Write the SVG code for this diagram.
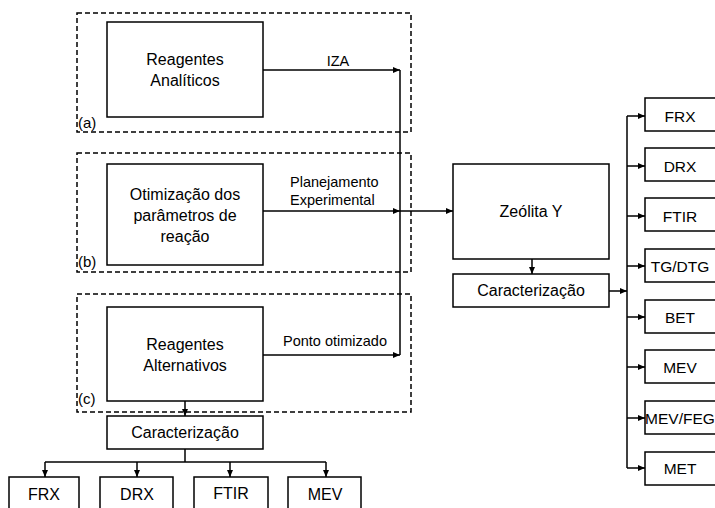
<svg xmlns="http://www.w3.org/2000/svg" width="715" height="508" viewBox="0 0 715 508">
<style>
.box{fill:#fff;stroke:#000;stroke-width:1.5}
.dash{fill:none;stroke:#000;stroke-width:1.5;stroke-dasharray:5,3}
.ln{fill:none;stroke:#000;stroke-width:1.5}
text{font-family:"Liberation Sans",Arial,sans-serif;fill:#000}
.t{font-size:16px;text-anchor:middle}
.r{font-size:15.5px;text-anchor:middle}
.s{font-size:14.5px}
.l{font-size:15px}
</style>
<defs>
<marker id="ah" markerWidth="7" markerHeight="6" refX="7" refY="3" orient="auto" markerUnits="userSpaceOnUse">
<path d="M0,0 L7,3 L0,6 Z" fill="#000"/>
</marker>
</defs>
<rect width="715" height="508" fill="#fff"/>
<g id="group-a">
<rect class="dash" x="77" y="13" width="334" height="119"/>
<text class="l" x="78" y="128">(a)</text>
</g>
<g id="group-b">
<rect class="dash" x="77" y="153" width="334" height="119"/>
<text class="l" x="78" y="267">(b)</text>
</g>
<g id="group-c">
<rect class="dash" x="77" y="294" width="334" height="118"/>
<text class="l" x="78" y="404">(c)</text>
</g>
<g id="connectors">
<line class="ln" x1="263" y1="70" x2="400" y2="70" marker-end="url(#ah)"/>
<line class="ln" x1="400" y1="70" x2="400" y2="355"/>
<line class="ln" x1="263" y1="355" x2="400" y2="355" marker-end="url(#ah)"/>
<line class="ln" x1="263" y1="211" x2="400" y2="211" marker-end="url(#ah)"/>
<line class="ln" x1="400" y1="211" x2="453" y2="211" marker-end="url(#ah)"/>
<line class="ln" x1="532" y1="259" x2="532" y2="274" marker-end="url(#ah)"/>
<line class="ln" x1="609" y1="291" x2="627" y2="291" marker-end="url(#ah)"/>
<line class="ln" x1="627" y1="116" x2="627" y2="468"/>
<line class="ln" x1="627" y1="116" x2="645" y2="116" marker-end="url(#ah)"/>
<line class="ln" x1="627" y1="166" x2="645" y2="166" marker-end="url(#ah)"/>
<line class="ln" x1="627" y1="216" x2="645" y2="216" marker-end="url(#ah)"/>
<line class="ln" x1="627" y1="266" x2="645" y2="266" marker-end="url(#ah)"/>
<line class="ln" x1="627" y1="317" x2="645" y2="317" marker-end="url(#ah)"/>
<line class="ln" x1="627" y1="367" x2="645" y2="367" marker-end="url(#ah)"/>
<line class="ln" x1="627" y1="418" x2="645" y2="418" marker-end="url(#ah)"/>
<line class="ln" x1="627" y1="468" x2="645" y2="468" marker-end="url(#ah)"/>
<line class="ln" x1="185" y1="401" x2="185" y2="416" marker-end="url(#ah)"/>
<line class="ln" x1="185" y1="449" x2="185" y2="462"/>
<line class="ln" x1="45" y1="462" x2="326" y2="462"/>
<line class="ln" x1="45" y1="462" x2="45" y2="477" marker-end="url(#ah)"/>
<line class="ln" x1="137" y1="462" x2="137" y2="477" marker-end="url(#ah)"/>
<line class="ln" x1="230" y1="462" x2="230" y2="477" marker-end="url(#ah)"/>
<line class="ln" x1="326" y1="462" x2="326" y2="477" marker-end="url(#ah)"/>
<text class="s" x="338" y="66" text-anchor="middle">IZA</text>
<text class="s" x="290" y="187">Planejamento</text>
<text class="s" x="290" y="205">Experimental</text>
<text class="s" x="283" y="346">Ponto otimizado</text>
</g>
<g id="reagentes-analiticos">
<rect class="box" x="107" y="22" width="156" height="95"/>
<text class="t" x="185" y="65">Reagentes</text>
<text class="t" x="185" y="86">Analíticos</text>
</g>
<g id="otimizacao">
<rect class="box" x="107" y="164" width="156" height="101"/>
<text class="t" x="185" y="200">Otimização dos</text>
<text class="t" x="185" y="221">parâmetros de</text>
<text class="t" x="185" y="242">reação</text>
</g>
<g id="reagentes-alternativos">
<rect class="box" x="107" y="307" width="156" height="94"/>
<text class="t" x="185" y="350">Reagentes</text>
<text class="t" x="185" y="371">Alternativos</text>
</g>
<g id="caracterizacao-c">
<rect class="box" x="107" y="416" width="156" height="33"/>
<text class="t" x="185" y="438">Caracterização</text>
</g>
<g id="frx-c"><rect class="box" x="9" y="477" width="70" height="40"/><text class="t" x="44" y="500">FRX</text></g>
<g id="drx-c"><rect class="box" x="100" y="477" width="73" height="40"/><text class="t" x="137" y="500">DRX</text></g>
<g id="ftir-c"><rect class="box" x="194" y="477" width="74" height="40"/><text class="t" x="231" y="499">FTIR</text></g>
<g id="mev-c"><rect class="box" x="288" y="477" width="73" height="40"/><text class="t" x="325" y="500">MEV</text></g>
<g id="zeolita">
<rect class="box" x="453" y="164" width="156" height="95"/>
<text class="t" x="531" y="217">Zeólita Y</text>
</g>
<g id="caracterizacao-z">
<rect class="box" x="453" y="274" width="156" height="33"/>
<text class="t" x="531" y="296">Caracterização</text>
</g>
<g id="frx"><rect class="box" x="645" y="98" width="80" height="33"/><text class="r" x="680" y="122">FRX</text></g>
<g id="drx"><rect class="box" x="645" y="148" width="80" height="33"/><text class="r" x="680" y="172">DRX</text></g>
<g id="ftir"><rect class="box" x="645" y="198" width="80" height="33"/><text class="r" x="680" y="222">FTIR</text></g>
<g id="tgdtg"><rect class="box" x="645" y="249" width="80" height="33"/><text class="r" x="680" y="272">TG/DTG</text></g>
<g id="bet"><rect class="box" x="645" y="300" width="80" height="33"/><text class="r" x="680" y="323">BET</text></g>
<g id="mev"><rect class="box" x="645" y="350" width="80" height="33"/><text class="r" x="680" y="373">MEV</text></g>
<g id="mevfeg"><rect class="box" x="645" y="401" width="80" height="33"/><text class="r" x="680" y="424">MEV/FEG</text></g>
<g id="met"><rect class="box" x="645" y="452" width="80" height="33"/><text class="r" x="680" y="474">MET</text></g>
</svg>
